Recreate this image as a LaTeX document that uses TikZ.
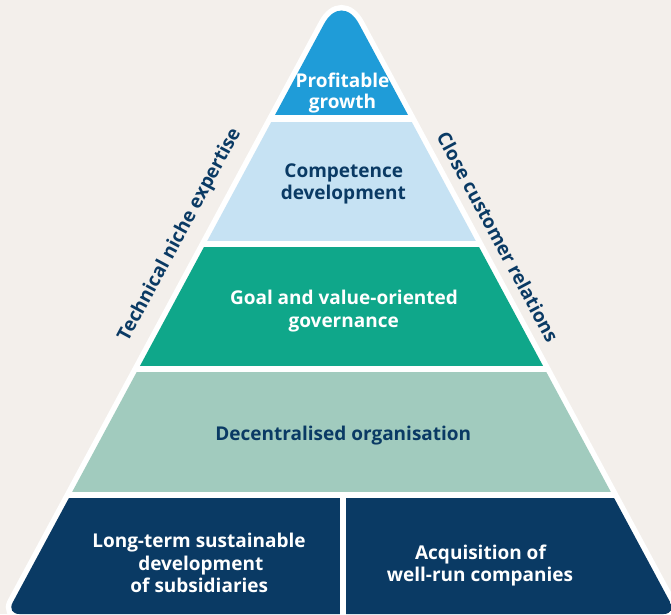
\documentclass[tikz,border=0pt]{standalone}
\usepackage{fontspec}
\setmainfont{Open Sans}
\begin{document}
\definecolor{paper}{HTML}{F3EFEB}
\definecolor{skyblue}{HTML}{1F9CD8}
\definecolor{paleblue}{HTML}{C6E2F3}
\definecolor{jade}{HTML}{0FA78A}
\definecolor{sage}{HTML}{A1CBBE}
\definecolor{navy}{HTML}{0A3A64}
\begin{tikzpicture}[x=1pt,y=-1pt,
  lbl/.style={font=\bfseries\fontsize{19}{22}\selectfont, anchor=base, inner sep=0pt},
  lightlbl/.style={lbl, text=white},
  darklbl/.style={lbl, text=navy},
  sidelbl/.style={font=\bfseries\fontsize{19}{22}\selectfont, text=navy, inner sep=0pt}]
  % canvas
  \useasboundingbox (0,0) rectangle (671,614);
  \clip (0,0) rectangle (671,614);
  \fill[paper] (0,0) rectangle (671,614);
  % pyramid outline
  \coordinate (apex) at (341.5,-8.6);
  \coordinate (bl) at (6.5,614);
  \coordinate (br) at (676.5,614);
  \coordinate (bm) at (341.5,614);
  \def\pyramid{(bm) [rounded corners=13pt] -- (br) [rounded corners=37pt] -- (apex) [rounded corners=13pt] -- (bl) -- cycle}
  \fill[white] \pyramid;
  \draw[white, line width=11pt] \pyramid;
  % layers
  \begin{scope}
    \clip \pyramid;
    \fill[skyblue] (0,-20) rectangle (671,115);
    \fill[paleblue] (0,122) rectangle (671,241);
    \fill[jade] (0,247) rectangle (671,366);
    \fill[sage] (0,372.3) rectangle (671,491.7);
    \fill[navy] (0,498) rectangle (340,630);
    \fill[navy] (345.7,498) rectangle (671,630);
  \end{scope}
  % layer texts
  \node[lightlbl] (pg1) at (342.5,87) {Profitable};
  \node[lightlbl] (pg2) at (342.5,108) {growth};
  \node[darklbl] (cd1) at (343.8,177.7) {Competence};
  \node[darklbl] (cd2) at (343.3,199.3) {development};
  \node[lightlbl] (gv1) at (344,304.3) {Goal and value-oriented};
  \node[lightlbl] (gv2) at (343.7,327.5) {governance};
  \node[darklbl] (dc) at (343.3,440) {Decentralised organisation};
  \node[lightlbl] (ls1) at (199,547.7) {Long-term sustainable};
  \node[lightlbl] (ls2) at (200.8,570.7) {development};
  \node[lightlbl] (ls3) at (199.3,592.7) {of subsidiaries};
  \node[lightlbl] (aq1) at (480.5,559.3) {Acquisition of};
  \node[lightlbl] (aq2) at (480,581.7) {well-run companies};
  % side texts
  \node[sidelbl, rotate=61.72] (tn) at (180,235) {Technical niche expertise};
  \node[sidelbl, rotate=-61.72] (cc) at (498,237) {Close customer relations};
\end{tikzpicture}
\end{document}
